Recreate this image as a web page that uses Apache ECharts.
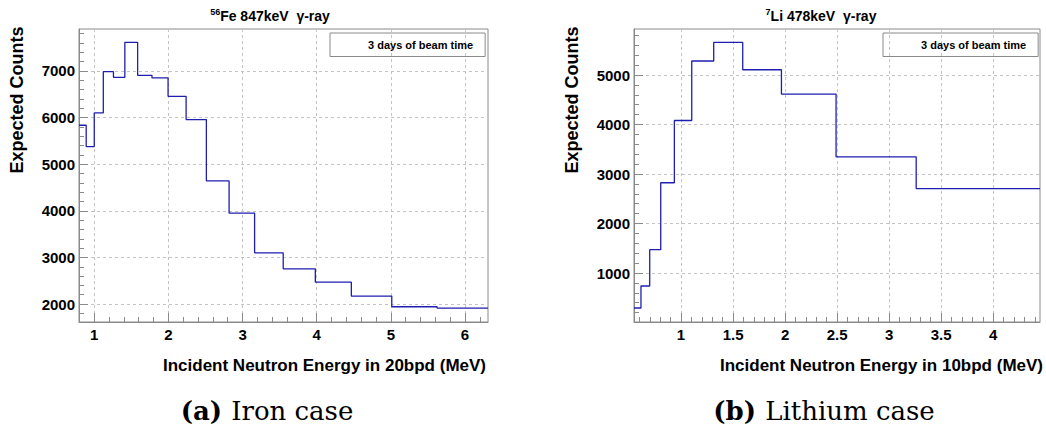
<!DOCTYPE html>
<html><head><meta charset="utf-8">
<script src="https://cdn.jsdelivr.net/npm/echarts@6/dist/echarts.min.js"></script>
<style>html,body{margin:0;padding:0;background:#fff}#c{width:1046px;height:429px}</style>
</head><body><div id="c"></div>
<script>
// ---- data ----
const feEdges  = [0.7943, 0.8913, 1.0, 1.1220, 1.2589, 1.4125, 1.5849, 1.7783, 1.9953, 2.2387, 2.5119, 2.8184, 3.1623, 3.5481, 3.9811, 4.4668, 5.0119, 5.6234, 6.3096];
const feCounts = [5835, 5378, 6099, 6985, 6863, 7614, 6906, 6850, 6455, 5957, 4642, 3949, 3099, 2755, 2470, 2172, 1942, 1914];
const liEdges  = [0.548, 0.615, 0.699, 0.805, 0.936, 1.103, 1.314, 1.593, 1.965, 2.490, 3.260, 4.450];
const liCounts = [293, 737, 1471, 2824, 4081, 5283, 5659, 5107, 4616, 3348, 2705];
const seriesName = '3 days of beam time';

// tick labels
const feXLabels = [1, 2, 3, 4, 5, 6];
const feYLabels = [2000, 3000, 4000, 5000, 6000, 7000];
const liXLabels = [1, 1.5, 2, 2.5, 3, 3.5, 4];
const liYLabels = [1000, 2000, 3000, 4000, 5000];

// axis ranges
const feXRange = [0.7943, 6.3096];
const feYRange = [1615, 7900];
const liXRange = [0.548, 4.45];
const liYRange = [10, 5930];

function steps(a, b, s) { const out = []; for (let v = a; v <= b + 1e-9; v += s) out.push(Math.round(v * 1000) / 1000); return out; }
const feXMinor = steps(0.8, 6.2, 0.2);
const feYMinor = steps(1800, 7800, 200);
const liXMinor = steps(0.6, 4.4, 0.1);
const liYMinor = steps(200, 5800, 200);

function histo(edges, counts) {
  const pts = counts.map((c, i) => [edges[i], c]);
  pts.push([edges[edges.length - 1], counts[counts.length - 1]]);
  return pts;
}

const FONT = 'Liberation Sans, Arial, sans-serif';
const GRAY = '#8a8a8a';

function mainAxis(gi, range, labels, isX) {
  return {
    type: 'value', gridIndex: gi, min: range[0], max: range[1],
    position: isX ? 'bottom' : 'left',
    axisLine: { show: true, onZero: false, lineStyle: { color: GRAY, width: 1 } },
    axisTick: { show: true, inside: true, length: 9, customValues: labels, lineStyle: { color: GRAY, width: 1 } },
    axisLabel: { customValues: labels, formatter: v => String(v), fontSize: 15, fontWeight: 'bold', fontFamily: FONT, color: '#000', margin: isX ? 5 : 4 },
    splitLine: { show: true, lineStyle: { color: '#c4c4c4', type: [3, 3], width: 1 } }
  };
}
function minorAxis(gi, range, ticks, isX) {
  return {
    type: 'value', gridIndex: gi, min: range[0], max: range[1],
    position: isX ? 'bottom' : 'left', offset: 0,
    axisLine: { show: false },
    axisTick: { show: true, inside: true, length: 5, customValues: ticks, lineStyle: { color: GRAY, width: 1 } },
    axisLabel: { show: false },
    splitLine: { show: false }
  };
}

const chart = echarts.init(document.getElementById('c'), null, { renderer: 'svg' });
const titleRich = {
  s: { fontSize: 9, fontWeight: 'bold', fontFamily: FONT, verticalAlign: 'top', lineHeight: 17, fill: '#000' },
  m: { fontSize: 14, fontWeight: 'bold', fontFamily: FONT, lineHeight: 17, fill: '#000' }
};
const capRich = {
  b: { fontSize: 26, fontWeight: 'bold', fontFamily: 'DejaVu Serif', fill: '#000' },
  r: { fontSize: 26, fontFamily: 'DejaVu Serif', fill: '#000' }
};
function txt(x, y, text, opts) {
  return Object.assign({ type: 'text', x: x, y: y, silent: true,
    style: Object.assign({ text: text, fill: '#000', fontFamily: FONT, fontWeight: 'bold', fontSize: 15, align: 'center', verticalAlign: 'middle' }, opts || {}) });
}

chart.setOption({
  animation: false,
  backgroundColor: '#fff',
  grid: [
    { left: 79, top: 29, right: 558, bottom: 107, show: true, borderColor: GRAY, borderWidth: 1, containLabel: false },
    { left: 634, top: 29, right: 6, bottom: 107, show: true, borderColor: GRAY, borderWidth: 1, containLabel: false }
  ],
  xAxis: [
    mainAxis(0, feXRange, feXLabels, true),
    minorAxis(0, feXRange, feXMinor, true),
    mainAxis(1, liXRange, liXLabels, true),
    minorAxis(1, liXRange, liXMinor, true)
  ],
  yAxis: [
    mainAxis(0, feYRange, feYLabels, false),
    minorAxis(0, feYRange, feYMinor, false),
    mainAxis(1, liYRange, liYLabels, false),
    minorAxis(1, liYRange, liYMinor, false)
  ],
  legend: [
    { data: [seriesName], left: 330, top: 33, icon: 'none', itemWidth: 25, itemHeight: 12, itemGap: 0,
      padding: [6, 12, 6, 8], borderColor: GRAY, borderWidth: 1, selectedMode: false,
      textStyle: { fontSize: 11, fontWeight: 'bold', fontFamily: FONT, color: '#000' } },
    { data: [seriesName], left: 883, top: 33, icon: 'none', itemWidth: 25, itemHeight: 12, itemGap: 0,
      padding: [6, 12, 6, 8], borderColor: GRAY, borderWidth: 1, selectedMode: false,
      textStyle: { fontSize: 11, fontWeight: 'bold', fontFamily: FONT, color: '#000' } }
  ],
  series: [
    { name: seriesName, type: 'line', xAxisIndex: 0, yAxisIndex: 0, step: 'end', showSymbol: false,
      data: histo(feEdges, feCounts), lineStyle: { color: '#1e1eb0', width: 1.3 }, itemStyle: { color: '#1e1eb0' } },
    { name: seriesName, type: 'line', xAxisIndex: 2, yAxisIndex: 2, step: 'end', showSymbol: false,
      data: histo(liEdges, liCounts), lineStyle: { color: '#1e1eb0', width: 1.3 }, itemStyle: { color: '#1e1eb0' } }
  ],
  graphic: [
    txt(270, 16, '{s|56}{m|Fe 847keV  γ-ray}', { rich: titleRich }),
    txt(821, 16, '{s|7}{m|Li 478keV  γ-ray}', { rich: titleRich }),
    Object.assign(txt(17, 100, 'Expected Counts', { fontSize: 18 }), { rotation: Math.PI / 2 }),
    Object.assign(txt(572, 100, 'Expected Counts', { fontSize: 18 }), { rotation: Math.PI / 2 }),
    txt(486, 365, 'Incident Neutron Energy in 20bpd (MeV)', { align: 'right', fontSize: 17 }),
    txt(1043, 365, 'Incident Neutron Energy in 10bpd (MeV)', { align: 'right', fontSize: 17 }),
    txt(267, 411, '{b|(a)} {r|Iron case}', { rich: capRich, fontFamily: 'DejaVu Serif', fontSize: 26 }),
    txt(824, 411, '{b|(b)} {r|Lithium case}', { rich: capRich, fontFamily: 'DejaVu Serif', fontSize: 26 })
  ]
});
</script></body></html>
